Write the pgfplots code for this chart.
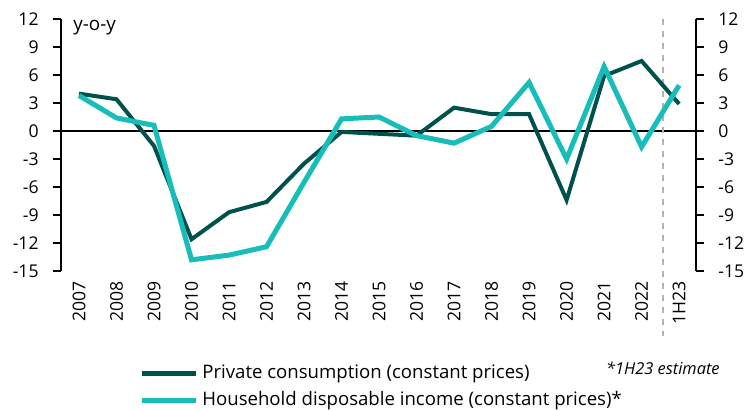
\documentclass[border=0pt]{standalone}
\usepackage{fontspec}
\setmainfont{Open Sans}
\usepackage{pgfplots}
\pgfplotsset{compat=1.18}
\definecolor{darkteal}{HTML}{00514B}
\definecolor{lightteal}{HTML}{17BDB8}
\begin{document}
\begin{tikzpicture}
\useasboundingbox (0pt,0pt) rectangle (375pt,205.5pt);
\begin{axis}[at={(30.5pt,70pt)}, anchor=south west, scale only axis,
  width=317.5pt, height=126pt,
  xmin=-0.48, xmax=16.45, ymin=-15, ymax=12,
  clip=false,
  axis x line*=bottom, x axis line style={draw=none},
  axis y line*=left, y axis line style={line width=0.9pt, -},
  xtick={0,...,16},
  xticklabels={2007,2008,2009,2010,2011,2012,2013,2014,2015,2016,2017,2018,2019,2020,2021,2022,1H23},
  x tick style={draw=none},
  xticklabel style={rotate=90, anchor=east, inner sep=0pt, font=\fontsize{8.8}{10}\selectfont, xshift=-1pt},
  ytick={-15,-12,...,12},
  yticklabels={-15,-12,-9,-6,-3,0,3,6,9,12},
  y tick style={line width=0.9pt, black},
  tick align=outside, major tick length=4pt,
  yticklabel style={font=\fontsize{8.8}{10}\selectfont, inner sep=0pt, xshift=-7pt},
  legend style={draw=none, fill=none, at={(0.1228,-0.355)}, anchor=north west,
    inner sep=0pt, font=\fontsize{9.3}{11.5}\selectfont, row sep=1pt},
  legend cell align=left,
  legend image code/.code={\draw[#1, line width=2.5pt] (0pt,0pt) -- (27pt,0pt);},
]
\draw[black, line width=0.6pt] (axis cs:-0.48,0) -- (axis cs:16.45,0);
\draw[gray!60, dashed, line width=0.6pt] (axis cs:15.57,12) -- (axis cs:15.57,-22);
\addplot[darkteal, line width=2pt] coordinates {
(0,4.0) (1,3.4) (2,-1.6) (3,-11.6) (4,-8.7) (5,-7.6) (6,-3.5) (7,-0.1) (8,-0.3) (9,-0.5)
(10,2.5) (11,1.8) (12,1.8) (13,-7.4) (14,5.9) (15,7.5) (16,2.9)};
\addlegendentry{Private consumption (constant prices)}
\addplot[lightteal, line width=2.5pt] coordinates {
(0,3.8) (1,1.4) (2,0.6) (3,-13.8) (4,-13.3) (5,-12.4) (6,-5.5) (7,1.3) (8,1.5) (9,-0.5)
(10,-1.3) (11,0.5) (12,5.2) (13,-3.0) (14,6.9) (15,-1.7) (16,4.9)};
\addlegendentry{Household disposable income (constant prices)*}
\node[anchor=base west, inner sep=0pt, font=\fontsize{9.4}{10}\selectfont] at (rel axis cs:0.019,0.955) {y-o-y};
\end{axis}
\begin{axis}[at={(30.5pt,70pt)}, anchor=south west, scale only axis,
  width=317.5pt, height=126pt,
  xmin=-0.48, xmax=16.45, ymin=-15, ymax=12,
  axis x line=none,
  axis y line*=right, y axis line style={line width=0.9pt, -},
  ytick={-15,-12,...,12},
  yticklabels={-15,-12,-9,-6,-3,0,3,6,9,12},
  y tick style={line width=0.9pt, black},
  tick align=outside, major tick length=4pt,
  yticklabel style={font=\fontsize{8.8}{10}\selectfont, inner sep=0pt, xshift=7pt},
]
\end{axis}
\node[anchor=base east, inner sep=0pt, font=\itshape\fontsize{8.2}{10}\selectfont] at (360pt,18pt) {*1H23 estimate};
\end{tikzpicture}
\end{document}
